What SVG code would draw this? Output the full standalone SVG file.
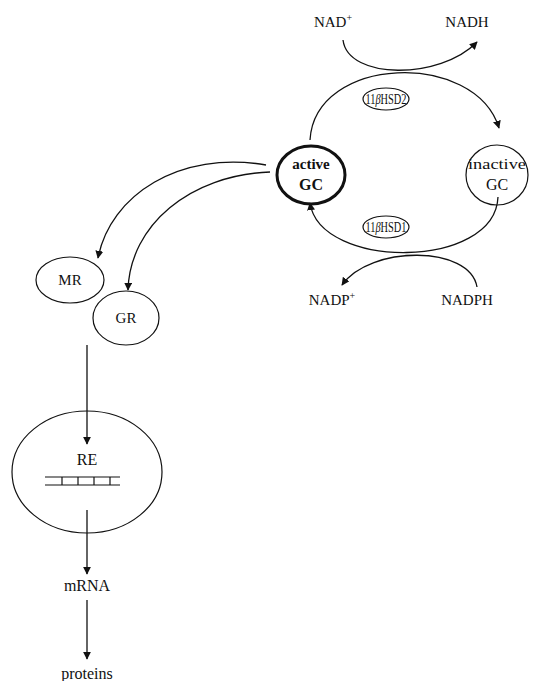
<svg xmlns="http://www.w3.org/2000/svg" width="533" height="681" viewBox="0 0 533 681">
<defs>
<style>
text{font-family:"Liberation Serif","Times New Roman",serif;fill:#111}
.c{text-anchor:middle}
.lbl{font-size:15px}
.big{font-size:16px}
.hsd{font-size:14px}
.ell{fill:none;stroke:#111;stroke-width:1.2}
.con{fill:none;stroke:#111;stroke-width:1.3}
</style>
<marker id="ah" viewBox="0 0 10 10" refX="9" refY="5" markerWidth="8" markerHeight="8" markerUnits="userSpaceOnUse" orient="auto">
<path d="M0,0 L10,5 L0,10 z" fill="#111"/>
</marker>
</defs>
<rect width="533" height="681" fill="#fff"/>
<g id="connectors">
<path class="con" d="M343,40 C348,80 440,80 477,42" marker-end="url(#ah)"/>
<path class="con" d="M310,140 C315,55 475,50 499,128" marker-end="url(#ah)"/>
<path class="con" d="M498,197 C495,270 320,270 310,203" marker-end="url(#ah)"/>
<path class="con" d="M477,287 C470,245 370,245 342,285" marker-end="url(#ah)"/>
<path class="con" d="M266,165 C180,150 110,195 98,258" marker-end="url(#ah)"/>
<path class="con" d="M270,172 C190,175 130,225 128,290" marker-end="url(#ah)"/>
<path class="con" d="M87,345 L87,444" marker-end="url(#ah)"/>
<path class="con" d="M87,510 L87,574" marker-end="url(#ah)"/>
<path class="con" d="M87,600 L87,659" marker-end="url(#ah)"/>
</g>
<g id="nad"><text class="lbl c" x="333" y="27">NAD<tspan font-size="10" dy="-6">+</tspan></text></g>
<g id="nadh"><text class="lbl c" x="467" y="27">NADH</text></g>
<g id="hsd2"><ellipse class="ell" cx="386" cy="99" rx="23" ry="11"/><text class="hsd c" transform="translate(386,104) scale(0.74,1)">11<tspan font-style="italic">β</tspan>HSD2</text></g>
<g id="activeGC"><ellipse cx="311" cy="175" rx="34" ry="29" fill="none" stroke="#111" stroke-width="3"/><text class="lbl c" font-weight="bold" x="311" y="169">active</text><text class="big c" font-weight="bold" x="311" y="190">GC</text></g>
<g id="inactiveGC"><ellipse class="ell" cx="497" cy="175" rx="31" ry="30"/><text class="lbl c" x="497" y="169" textLength="58" lengthAdjust="spacingAndGlyphs">inactive</text><text class="big c" x="497" y="190">GC</text></g>
<g id="hsd1"><ellipse class="ell" cx="386" cy="227" rx="23" ry="11"/><text class="hsd c" transform="translate(386,232) scale(0.74,1)">11<tspan font-style="italic">β</tspan>HSD1</text></g>
<g id="nadp"><text class="lbl c" x="332" y="305">NADP<tspan font-size="10" dy="-6">+</tspan></text></g>
<g id="nadph"><text class="lbl c" x="467" y="305">NADPH</text></g>
<g id="MR"><ellipse class="ell" cx="70" cy="280" rx="34" ry="23"/><text class="lbl c" x="70" y="285">MR</text></g>
<g id="GR"><ellipse class="ell" cx="126" cy="318" rx="33" ry="27"/><text class="lbl c" x="126" y="323">GR</text></g>
<g id="RE"><ellipse class="ell" cx="87" cy="472" rx="75" ry="61"/><text class="big c" x="87" y="465">RE</text>
<g stroke="#111" stroke-width="1.2"><line x1="45" y1="477" x2="120" y2="477"/><line x1="45" y1="485" x2="120" y2="485"/><line x1="62" y1="477" x2="62" y2="485"/><line x1="78" y1="477" x2="78" y2="485"/><line x1="94" y1="477" x2="94" y2="485"/><line x1="110" y1="477" x2="110" y2="485"/></g></g>
<g id="mRNA"><text class="big c" x="87" y="591">mRNA</text></g>
<g id="proteins"><text class="big c" x="87" y="679">proteins</text></g>
</svg>
